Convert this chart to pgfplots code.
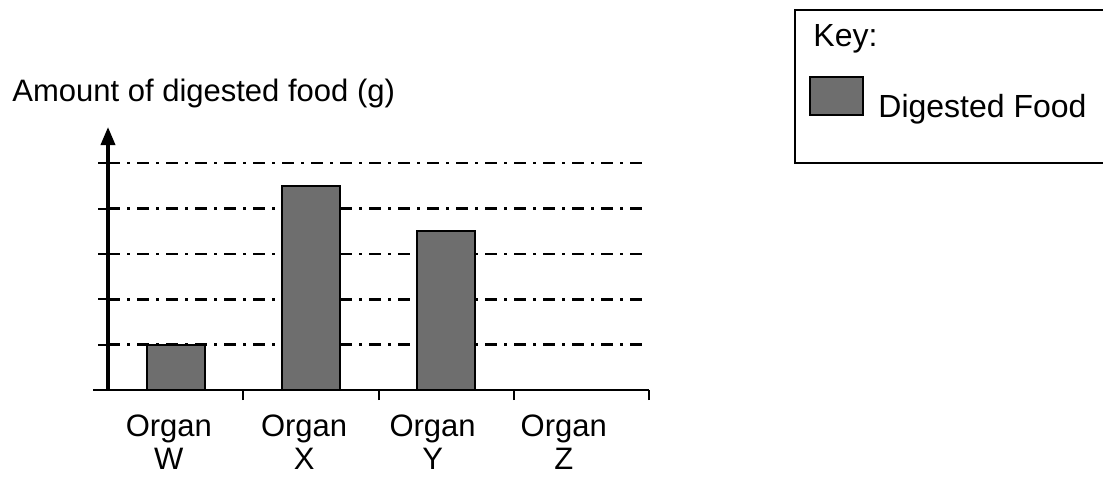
\documentclass[border=0pt]{standalone}
\usepackage{fontspec}
\setmainfont{Liberation Sans}
\usepackage{pgfplots}
\pgfplotsset{compat=1.18}
\usetikzlibrary{arrows.meta}
\definecolor{barfill}{HTML}{6E6E6E}
\begin{document}
\begin{tikzpicture}
\path[use as bounding box] (0,0) rectangle (551.5pt,-240.5pt);
\begin{axis}[
  at={(54pt,-195pt)}, anchor=south west,
  scale only axis, width=270.5pt, height=131.5pt,
  xmin=-0.5, xmax=3.5, ymin=0, ymax=5.8,
  axis x line=bottom, axis y line=left,
  x axis line style={-, line width=1pt, shorten <=-7.5pt},
  y axis line style={-{Triangle[width=7pt,length=9pt]}, line width=1.8pt},
  tick align=outside, major tick length=5pt,
  xtick={0.5,1.5,2.5,3.5}, xticklabels={},
  ytick={1,2,3,4,5}, yticklabels={},
  tick style={draw=black, line width=1pt},
  extra x ticks={-0.05,0.95,1.9,2.87},
  extra x tick labels={{Organ\\W},{Organ\\X},{Organ\\Y},{Organ\\Z}},
  extra x tick style={major tick length=0pt},
  xticklabel style={align=center, font=\fontsize{15.5}{16.5}\selectfont, yshift=-9pt},
  ymajorgrids,
  grid style={black, line width=1.2pt, dash pattern=on 6pt off 3.5pt on 1.5pt off 3.5pt},
  clip=false,
]
\addplot[ybar, bar width=29pt, fill=barfill, draw=black, line width=1.1pt]
  coordinates {(0,1) (1,4.5) (2,3.5) (3,0)};
\end{axis}
\node[anchor=base west, inner sep=0pt, font=\fontsize{15.5}{18}\selectfont] at (6pt,-51pt) {Amount of digested food (g)};
\draw[line width=1pt] (397.5pt,-5pt) rectangle (560pt,-81.5pt);
\node[anchor=base west, inner sep=0pt, font=\fontsize{16}{18}\selectfont] at (406.5pt,-23.5pt) {Key:};
\draw[fill=barfill, draw=black, line width=0.6pt] (405pt,-38.5pt) rectangle (431.5pt,-57.5pt);
\node[anchor=base west, inner sep=0pt, font=\fontsize{16}{18}\selectfont] at (439pt,-59pt) {Digested Food};
\end{tikzpicture}
\end{document}
